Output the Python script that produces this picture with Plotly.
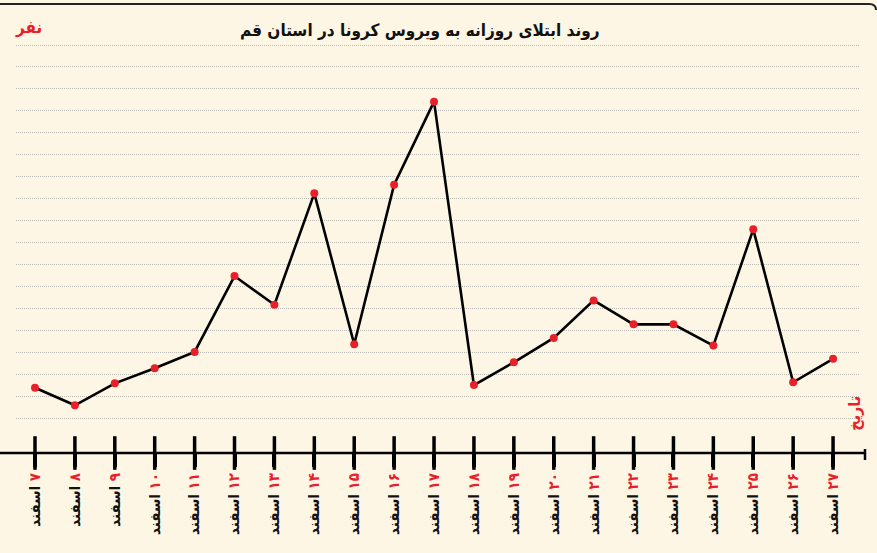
import plotly.graph_objects as go

# Data (y in arbitrary grid units, grid every 10)
days = ["۷", "۸", "۹", "۱۰", "۱۱", "۱۲", "۱۳", "۱۴", "۱۵", "۱۶", "۱۷",
        "۱۸", "۱۹", "۲۰", "۲۱", "۲۲", "۲۳", "۲۴", "۲۵", "۲۶", "۲۷"]
month = "اسفند"
values = [23.8, 15.8, 25.8, 32.7, 40.1, 74.7, 61.6, 112.4, 43.6, 116.3, 154.2,
          25.0, 35.4, 46.5, 63.6, 52.7, 52.7, 43.0, 96.0, 26.3, 37.0]
grid_vals = list(range(10, 190, 10))

title_text = "روند ابتلای روزانه به ویروس کرونا در استان قم"
y_title = "نفر"
x_title = "تاریخ"

RED = "#e8202a"
BG = "#fdf6e5"
FONT = "DejaVu Sans Condensed, DejaVu Sans"

xs = list(range(len(days)))
LRM = "\u200e"
ticktext = [f"<b>{month} {LRM}<span style='color:{RED}'>{LRM}{d}</span></b>" for d in days]

y_min, y_max = -5.95, 182.3

fig = go.Figure()
# Tick crosses on the x axis (upper half above the axis line)
fig.add_trace(go.Scatter(
    x=xs, y=[y_min] * len(xs), mode="markers",
    marker=dict(symbol="line-ns", size=24, line=dict(color="black", width=3.5)),
    cliponaxis=False, hoverinfo="skip", showlegend=False))
# Main series
fig.add_trace(go.Scatter(
    x=xs, y=values, mode="lines+markers",
    line=dict(color="black", width=2.6),
    marker=dict(color=RED, size=8),
    cliponaxis=False, showlegend=False))

fig.update_layout(
    width=877, height=553, autosize=False,
    margin=dict(l=16, r=18, t=40, b=100),
    paper_bgcolor=BG, plot_bgcolor=BG,
    font=dict(family=FONT, color="black"),
    xaxis=dict(range=[-0.476, 20.65], tickmode="array", tickvals=xs, ticktext=ticktext,
               tickangle=-90, ticks="outside", ticklen=13, tickwidth=3.5, tickcolor="black",
               tickfont=dict(family=FONT, size=15, color="#111"),
               showgrid=False, zeroline=False, showline=False, automargin=False),
    yaxis=dict(range=[y_min, y_max], tickmode="array", tickvals=grid_vals,
               showticklabels=False, showgrid=True, gridcolor="#bcbab5",
               griddash="1px,1px", gridwidth=1, zeroline=False, showline=False, ticks=""),
    shapes=[
        # x axis line
        dict(type="line", xref="paper", yref="paper", x0=-16 / 843, x1=849 / 843,
             y0=0, y1=0, line=dict(color="black", width=2.5)),
        # end tick
        dict(type="line", xref="paper", yref="paper", x0=849 / 843, x1=849 / 843,
             y0=0.0097, y1=-0.017, line=dict(color="black", width=2.5)),
        # top frame line with rounded corner
        dict(type="path", xref="paper", yref="paper",
             path=f"M {-16/843} {449/413} L {853/843} {449/413} Q {860/843} {449/413} {860/843} {443/413}",
             line=dict(color="#222", width=2)),
    ],
    annotations=[
        dict(text=f"<b>{title_text}</b>", xref="paper", yref="paper", x=0.479, y=1.024,
             xanchor="center", yanchor="middle", showarrow=False,
             font=dict(family=FONT, size=17, color="#111")),
        dict(text=f"<b>{y_title}</b>", xref="paper", yref="paper", x=0.0154, y=1.031,
             xanchor="center", yanchor="middle", showarrow=False,
             font=dict(family=FONT, size=17, color=RED)),
        dict(text=f"<b>{x_title}</b>", xref="paper", yref="paper", x=0.995, y=0.097,
             xanchor="center", yanchor="middle", showarrow=False, textangle=-90,
             font=dict(family=FONT, size=16, color=RED)),
    ],
)

fig.write_html("out.html", config={"displayModeBar": False},
               post_script="document.body.style.margin='0';document.body.style.background='%s';" % BG)
